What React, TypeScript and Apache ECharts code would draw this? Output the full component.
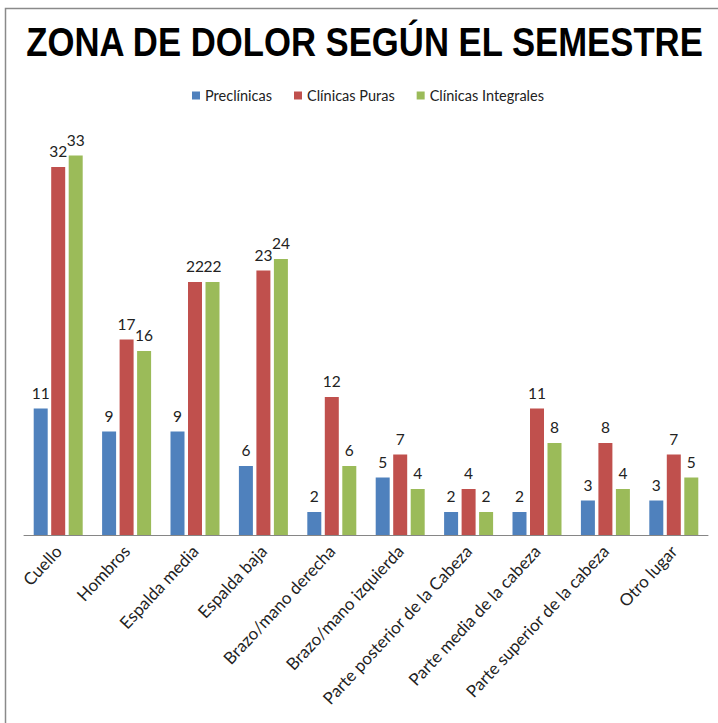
import React, { useEffect, useRef } from "react";
import * as echarts from "echarts";

const categories = [
  "Cuello",
  "Hombros",
  "Espalda media",
  "Espalda baja",
  "Brazo/mano derecha",
  "Brazo/mano izquierda",
  "Parte posterior de la Cabeza",
  "Parte media de la cabeza",
  "Parte superior de la cabeza",
  "Otro lugar",
];
const preclinicas = [11, 9, 9, 6, 2, 5, 2, 2, 3, 3];
const clinicasPuras = [32, 17, 22, 23, 12, 7, 4, 11, 8, 7];
const clinicasIntegrales = [33, 16, 22, 24, 6, 4, 2, 8, 4, 5];
const seriesNames = ["Preclínicas", "Clínicas Puras", "Clínicas Integrales"];
const colors = ["#4F81BD", "#C0504D", "#9BBB59"];
const titleText = "ZONA DE DOLOR SEGÚN EL SEMESTRE";

const FONT = "Lato, 'Open Sans', sans-serif";

export default function App() {
  const ref = useRef<HTMLDivElement>(null);
  useEffect(() => {
    if (!ref.current) return;
    const chart = echarts.init(ref.current, undefined, { renderer: "svg" });
    const data = [preclinicas, clinicasPuras, clinicasIntegrales];
    chart.setOption({
      animation: false,
      backgroundColor: "#ffffff",
      graphic: [
        {
          type: "rect",
          shape: { x: 5.5, y: 8.5, width: 1000, height: 1000 },
          style: { fill: "none", stroke: "#8a8a8a", lineWidth: 1.5 },
          silent: true,
        },
        {
          type: "text",
          x: 364.5,
          y: 42,
          scaleX: 0.89,
          scaleY: 1.05,
          style: {
            text: titleText,
            x: 0,
            y: 0,
            align: "center",
            verticalAlign: "middle",
            font: "bold 39px 'Liberation Sans', Arial, sans-serif",
            fill: "#000000",
          },
        },
      ],
      legend: {
        data: seriesNames,
        top: 83,
        left: 187,
        icon: "rect",
        itemWidth: 8,
        itemHeight: 8,
        itemGap: 22,
        textStyle: { fontFamily: FONT, fontSize: 14.5, color: "#222" },
      },
      grid: { left: 24, right: 10, top: 132.5, bottom: 188, containLabel: false },
      xAxis: {
        type: "category",
        data: categories,
        axisLine: { lineStyle: { color: "#868686", width: 1 } },
        axisTick: { show: false },
        axisLabel: {
          interval: 0,
          rotate: 47,
          margin: 13,
          fontFamily: FONT,
          fontSize: 17,
          color: "#222",
        },
      },
      yAxis: {
        type: "value",
        min: 0,
        max: 35,
        show: false,
        splitLine: { show: false },
      },
      series: data.map((d, i) => ({
        name: seriesNames[i],
        type: "bar",
        data: d,
        barWidth: 14,
        barGap: "25%",
        itemStyle: { color: colors[i] },
        label: {
          show: true,
          position: "top",
          distance: 8,
          fontFamily: FONT,
          fontSize: 15.5,
          color: "#222",
        },
      })),
    });
    return () => chart.dispose();
  }, []);
  return (
    <div
      ref={ref}
      style={{ position: "fixed", left: 0, top: 0, width: 718, height: 723 }}
    />
  );
}
